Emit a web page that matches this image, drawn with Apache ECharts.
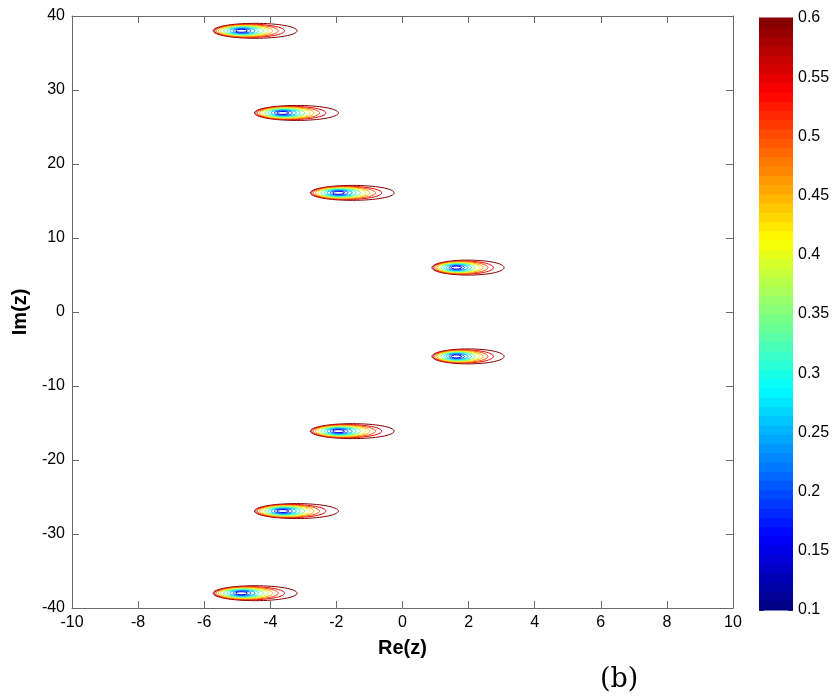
<!DOCTYPE html>
<html>
<head>
<meta charset="utf-8">
<script src="https://cdn.jsdelivr.net/npm/echarts@6/dist/echarts.min.js"></script>
<style>html,body{margin:0;padding:0;background:#fff}#c{width:836px;height:698px}</style>
</head>
<body>
<div id="c"></div>
<script>
// ---- data ----
// cluster centres (innermost contour) : Re, Im, horizontal spread factor
var clusterRe = [-4.87, -3.62, -1.93, 1.63, 1.63, -1.93, -3.62, -4.87];
var clusterIm = [38.0, 26.9, 16.1, 6.0, -6.0, -16.1, -26.9, -38.0];
var clusterSpread = [1.0, 1.0, 1.0, 0.86, 0.86, 1.0, 1.0, 1.0];
// contour levels and their ellipse parameters (data units)
var levels   = [0.15, 0.2, 0.25, 0.3, 0.35, 0.4, 0.45, 0.5, 0.55, 0.6];
var levelDx  = [0.0, 0.015, 0.03, 0.045, 0.06, 0.09, 0.12, 0.17, 0.24, 0.41];
var levelRx  = [0.18, 0.27, 0.38, 0.48, 0.60, 0.73, 0.82, 0.94, 1.06, 1.27];
var levelRy  = [0.20, 0.30, 0.39, 0.47, 0.57, 0.66, 0.73, 0.81, 0.89, 1.01];
// axes ticks
var xTicks = [-10, -8, -6, -4, -2, 0, 2, 4, 6, 8, 10];
var yTicks = [-40, -30, -20, -10, 0, 10, 20, 30, 40];
var cbarTicks = [0.1, 0.15, 0.2, 0.25, 0.3, 0.35, 0.4, 0.45, 0.5, 0.55, 0.6];
var cMin = 0.1, cMax = 0.6;

// ---- jet colormap (style) ----
function jet(t) {
  t = Math.max(0, Math.min(1, t));
  function ch(x) { return Math.max(0, Math.min(1, 1.5 - Math.abs(4 * t - x))); }
  var r = ch(3), g = ch(2), b = ch(1);
  return 'rgb(' + Math.round(r * 255) + ',' + Math.round(g * 255) + ',' + Math.round(b * 255) + ')';
}
function levelColor(v) { return jet((v - cMin) / (cMax - cMin)); }

var contourData = [];
for (var i = 0; i < clusterRe.length; i++) {
  for (var j = levels.length - 1; j >= 0; j--) {
    var s = clusterSpread[i];
    contourData.push([clusterRe[i] + levelDx[j] * s, clusterIm[i], levelRx[j] * s, levelRy[j], levels[j]]);
  }
}
var nColors = 64;
var cbarData = [];
for (var k = 0; k < nColors; k++) {
  cbarData.push([cMin + (cMax - cMin) * k / nColors, cMin + (cMax - cMin) * (k + 1) / nColors, (k + 0.5) / nColors]);
}

var font = 'Liberation Sans, Arial, sans-serif';
var axisCol = '#6a6a6a';
var chart = echarts.init(document.getElementById('c'), null, { renderer: 'canvas' });
function baseAxis() {
  return {
    axisLine: { show: true, onZero: false, lineStyle: { color: axisCol, width: 1 } },
    splitLine: { show: false },
    axisTick: { show: true, inside: true, length: 7, lineStyle: { color: axisCol } }
  };
}
chart.setOption({
  animation: false,
  backgroundColor: '#fff',
  grid: [
    { left: 72, right: 103, top: 16, bottom: 90, containLabel: false },
    { left: 759, width: 34, top: 18, bottom: 88, containLabel: false }
  ],
  xAxis: [
    Object.assign(baseAxis(), {
      gridIndex: 0, type: 'value', min: xTicks[0], max: xTicks[xTicks.length - 1], interval: 2,
      position: 'bottom',
      axisLabel: { color: '#000', fontSize: 16, fontFamily: font, margin: 7 },
      name: 'Re(z)', nameLocation: 'middle', nameGap: 30,
      nameTextStyle: { color: '#000', fontSize: 20, fontWeight: 'bold', fontFamily: font }
    }),
    Object.assign(baseAxis(), {
      gridIndex: 0, type: 'value', min: xTicks[0], max: xTicks[xTicks.length - 1], interval: 2,
      position: 'top', axisLabel: { show: false }
    }),
    { gridIndex: 1, type: 'value', min: 0, max: 1, show: false }
  ],
  yAxis: [
    Object.assign(baseAxis(), {
      gridIndex: 0, type: 'value', min: yTicks[0], max: yTicks[yTicks.length - 1], interval: 10,
      position: 'left',
      axisLabel: { color: '#000', fontSize: 16, fontFamily: font, margin: 7 },
      name: 'Im(z)', nameLocation: 'middle', nameGap: 38,
      nameTextStyle: { color: '#000', fontSize: 20, fontWeight: 'bold', fontFamily: font }
    }),
    Object.assign(baseAxis(), {
      gridIndex: 0, type: 'value', min: yTicks[0], max: yTicks[yTicks.length - 1], interval: 10,
      position: 'right', axisLabel: { show: false }
    }),
    {
      gridIndex: 1, type: 'value', min: cMin, max: cMax, interval: 0.05, position: 'right',
      axisLine: { show: false, onZero: false }, splitLine: { show: false },
      axisTick: { show: true, inside: true, length: 5, lineStyle: { color: '#333' } },
      axisLabel: { color: '#000', fontSize: 16, fontFamily: font, margin: 5,
        formatter: function (v) { return String(+v.toFixed(2)); } }
    },
    {
      gridIndex: 1, type: 'value', min: cMin, max: cMax, interval: 0.05, position: 'left',
      axisLine: { show: false, onZero: false }, splitLine: { show: false },
      axisTick: { show: true, inside: true, length: 5, lineStyle: { color: '#333' } },
      axisLabel: { show: false }
    }
  ],
  series: [
    {
      type: 'custom', xAxisIndex: 2, yAxisIndex: 2, z: 1,
      data: cbarData,
      renderItem: function (params, api) {
        var p0 = api.coord([0, api.value(0)]);
        var p1 = api.coord([1, api.value(1)]);
        return { type: 'rect', shape: { x: p0[0], y: p1[1] - 0.5, width: p1[0] - p0[0], height: p0[1] - p1[1] + 1 },
          style: { fill: jet(api.value(2)) } };
      }
    },
    {
      type: 'custom', xAxisIndex: 0, yAxisIndex: 0, z: 3,
      data: contourData,
      clip: true,
      renderItem: function (params, api) {
        var c = api.coord([api.value(0), api.value(1)]);
        var sz = api.size([api.value(2), api.value(3)]);
        return { type: 'ellipse', shape: { cx: c[0], cy: c[1], rx: sz[0], ry: sz[1] },
          style: { fill: null, stroke: levelColor(api.value(4)), lineWidth: 1 } };
      }
    }
  ],
  graphic: [
    { type: 'text', left: 600, top: 666,
      style: { text: '(b)', fontSize: 27, fontFamily: 'DejaVu Serif, Liberation Serif, serif', fill: '#000' } }
  ]
});
</script>
</body>
</html>
